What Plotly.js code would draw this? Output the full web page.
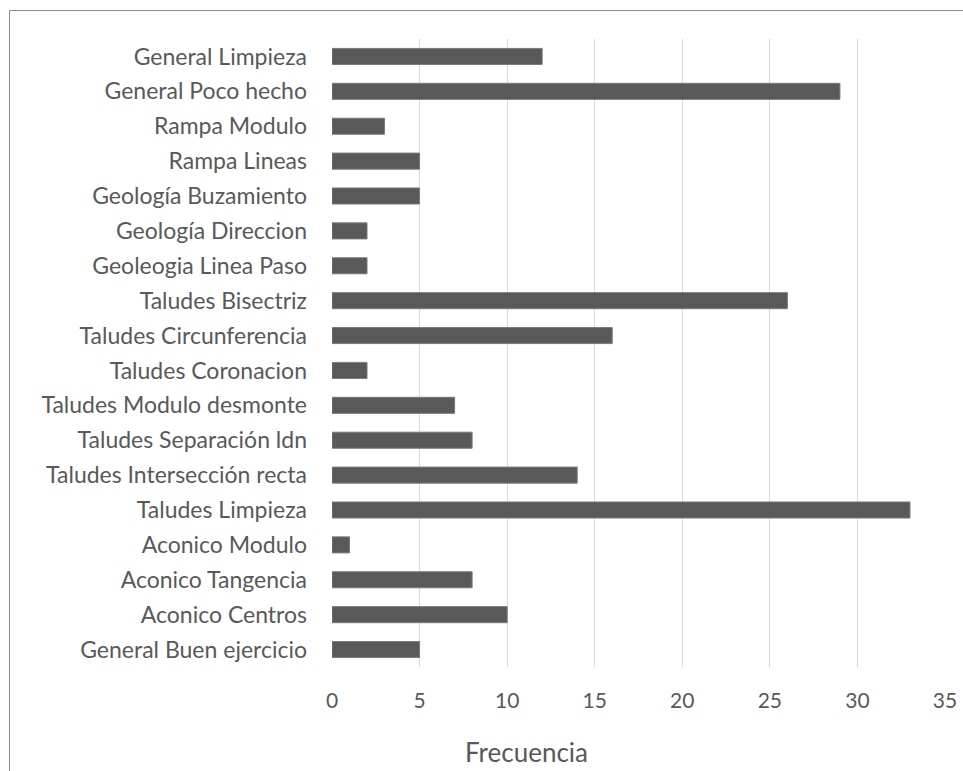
<!DOCTYPE html>
<html>
<head>
<meta charset="utf-8">
<script src="https://cdn.plot.ly/plotly-3.0.1.min.js"></script>
<style>html,body{margin:0;padding:0;background:#fff;}#chart{width:963px;height:771px;}</style>
</head>
<body>
<div id="chart"></div>
<script>
const categories = [
  "General Limpieza",
  "General Poco hecho",
  "Rampa Modulo",
  "Rampa Lineas",
  "Geología Buzamiento",
  "Geología Direccion",
  "Geoleogia Linea Paso",
  "Taludes Bisectriz",
  "Taludes Circunferencia",
  "Taludes Coronacion",
  "Taludes Modulo desmonte",
  "Taludes Separación ldn",
  "Taludes Intersección recta",
  "Taludes Limpieza",
  "Aconico Modulo",
  "Aconico Tangencia",
  "Aconico Centros",
  "General Buen ejercicio"
];
const frecuencia = [12, 29, 3, 5, 5, 2, 2, 26, 16, 2, 7, 8, 14, 33, 1, 8, 10, 5];
const xTicks = [0, 5, 10, 15, 20, 25, 30, 35];
const xTitle = "Frecuencia";

const font = 'Lato, sans-serif';
const txt = '#595959';

Plotly.newPlot('chart', [{
  type: 'bar',
  orientation: 'h',
  y: categories,
  x: frecuencia,
  marker: {color: '#595959', line: {color: '#7a7a7a', width: 1}},
  hoverinfo: 'x+y'
}], {
  width: 963, height: 771,
  margin: {l: 332, r: 18, t: 39, b: 104},
  paper_bgcolor: '#fff', plot_bgcolor: '#fff',
  bargap: 0.54,
  showlegend: false,
  font: {family: font, color: txt, size: 22},
  xaxis: {
    range: [0, 35], tickvals: xTicks, ticktext: xTicks.map(String),
    showgrid: true, gridcolor: '#d9d9d9', gridwidth: 1,
    zeroline: false, showline: false, ticks: '',
    tickfont: {family: font, size: 21, color: txt},
    ticklabelstandoff: 19, fixedrange: true
  },
  yaxis: {
    type: 'category', autorange: 'reversed',
    showgrid: false, zeroline: false, showline: false, ticks: '',
    tickfont: {family: font, size: 23, color: txt},
    ticklabelstandoff: 24, fixedrange: true
  },
  annotations: [{
    text: xTitle, xref: 'paper', yref: 'paper',
    x: (526 - 332) / 613, y: -(752 - 667) / 628,
    xanchor: 'center', yanchor: 'middle', showarrow: false,
    font: {family: font, size: 26, color: txt}
  }],
  shapes: [{
    type: 'rect', xref: 'paper', yref: 'paper', layer: 'below',
    x0: (9.5 - 332) / 613, x1: 2, y0: -2, y1: 1 + (39 - 10.5) / 628,
    line: {color: '#8c8c8c', width: 1}, fillcolor: 'rgba(0,0,0,0)'
  }]
}, {displayModeBar: false});
</script>
</body>
</html>
